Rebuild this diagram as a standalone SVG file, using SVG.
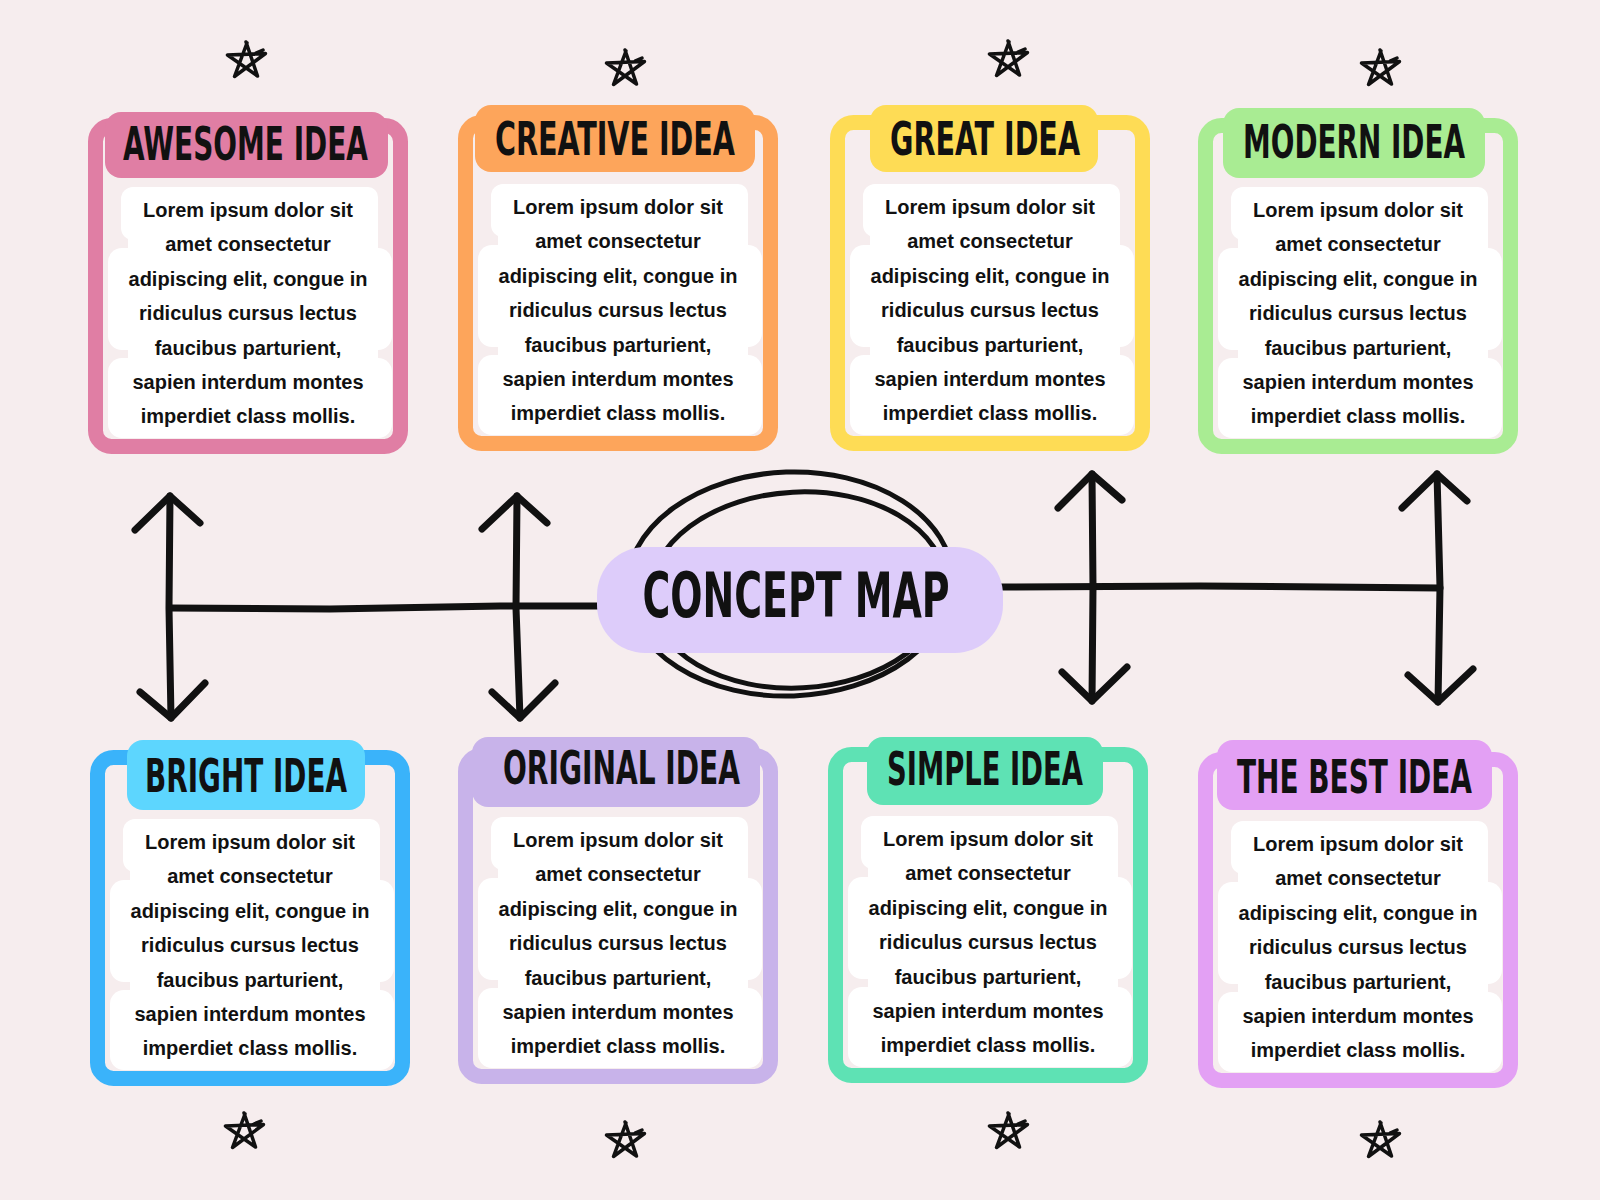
<svg xmlns="http://www.w3.org/2000/svg" xmlns:xlink="http://www.w3.org/1999/xlink" width="1600" height="1200" viewBox="0 0 1600 1200">
<style>
.frame{fill:none;stroke-width:15;stroke-linejoin:round}
.title{font-family:"DejaVu Sans Condensed","Liberation Sans Narrow","Liberation Sans",sans-serif;font-weight:bold;font-size:46px;fill:#111;text-anchor:middle}
.body{font-family:"Liberation Sans",Arial,sans-serif;font-weight:bold;font-size:20px;fill:#111;text-anchor:middle}
.wht{fill:#ffffff}
.ink{fill:none;stroke:#111;stroke-width:7;stroke-linecap:round;stroke-linejoin:round}
.scrib{fill:none;stroke:#111;stroke-width:5;stroke-linecap:round}
.star{fill:none;stroke:#111;stroke-width:3.5;stroke-linecap:round;stroke-linejoin:round}
.concept{font-family:"DejaVu Sans Condensed","Liberation Sans Narrow","Liberation Sans",sans-serif;font-weight:bold;font-size:62px;fill:#111;text-anchor:middle}
</style>
<defs>
<path id="starShape" d="M0,-18 L11.5,16 L-18.5,-5 L19.5,-6.5 L-11.5,16.5 L1,-17 M10,-7 L17,-10"/>
<g id="whiteArea">
<rect class="wht" x="40" y="69" width="250" height="251" rx="10"/>
<rect class="wht" x="33" y="69" width="256" height="53" rx="12"/>
<rect class="wht" x="20" y="130" width="284" height="102" rx="14"/>
<rect class="wht" x="20" y="240" width="284" height="80" rx="14"/>
</g>
<g id="bodyText">
<text class="body" x="160" y="99">Lorem ipsum dolor sit</text>
<text class="body" x="160" y="133.4">amet consectetur</text>
<text class="body" x="160" y="167.8">adipiscing elit, congue in</text>
<text class="body" x="160" y="202.2">ridiculus cursus lectus</text>
<text class="body" x="160" y="236.6">faucibus parturient,</text>
<text class="body" x="160" y="271">sapien interdum montes</text>
<text class="body" x="160" y="305.4">imperdiet class mollis.</text>
</g>
</defs>
<rect x="0" y="0" width="1600" height="1200" fill="#F6EDEE"/>

<g id="stars">
<use xlink:href="#starShape" href="#starShape" class="star" transform="translate(246,60)"/>
<use xlink:href="#starShape" href="#starShape" class="star" transform="translate(625,68)"/>
<use xlink:href="#starShape" href="#starShape" class="star" transform="translate(1008,59)"/>
<use xlink:href="#starShape" href="#starShape" class="star" transform="translate(1380,68)"/>
<use xlink:href="#starShape" href="#starShape" class="star" transform="translate(244,1131)"/>
<use xlink:href="#starShape" href="#starShape" class="star" transform="translate(625,1140)"/>
<use xlink:href="#starShape" href="#starShape" class="star" transform="translate(1008,1131)"/>
<use xlink:href="#starShape" href="#starShape" class="star" transform="translate(1380,1140)"/>
</g>

<g id="connectors">
<path class="ink" d="M170,608 L330,609 L500,606 L600,606"/>
<path class="ink" d="M1000,587 L1200,586 L1440,588"/>
<path class="ink" d="M170,496 L169,608 L171,718"/>
<path class="ink" d="M135,530 L170,496 L200,523"/>
<path class="ink" d="M140,692 L171,718 L205,683"/>
<path class="ink" d="M517,496 L516,608 L520,718"/>
<path class="ink" d="M482,529 L517,496 L547,523"/>
<path class="ink" d="M492,692 L520,718 L555,683"/>
<path class="ink" d="M1092,474 L1093,587 L1092,701"/>
<path class="ink" d="M1058,508 L1092,474 L1122,500"/>
<path class="ink" d="M1062,672 L1092,701 L1127,667"/>
<path class="ink" d="M1437,474 L1440,587 L1438,702"/>
<path class="ink" d="M1402,508 L1437,474 L1467,501"/>
<path class="ink" d="M1408,675 L1438,702 L1473,669"/>
</g>

<g id="concept-map">
<ellipse class="scrib" cx="790" cy="584" rx="163" ry="112" transform="rotate(-2 790 584)"/>
<ellipse class="scrib" cx="798" cy="590" rx="148" ry="98" transform="rotate(-3 798 590)"/>
<rect x="597" y="547" width="406" height="106" rx="48" fill="#DDCCFA"/>
<text class="concept" x="796" y="617" textLength="307" lengthAdjust="spacingAndGlyphs">CONCEPT MAP</text>
</g>

<g id="awesome-idea" transform="translate(88,118)">
<rect class="frame" x="7.5" y="7.5" width="305" height="321" rx="16" stroke="#E07EA4"/>
<rect x="17" y="-6" width="283" height="66" rx="16" fill="#E07EA4"/>
<use xlink:href="#whiteArea" href="#whiteArea"/>
<text class="title" x="157.5" y="42" textLength="245" lengthAdjust="spacingAndGlyphs">AWESOME IDEA</text>
<use xlink:href="#bodyText" href="#bodyText"/>
</g>

<g id="creative-idea" transform="translate(458,115)">
<rect class="frame" x="7.5" y="7.5" width="305" height="321" rx="16" stroke="#FDA55B"/>
<rect x="17" y="-10" width="280" height="67" rx="16" fill="#FDA55B"/>
<use xlink:href="#whiteArea" href="#whiteArea"/>
<text class="title" x="157" y="40" textLength="240" lengthAdjust="spacingAndGlyphs">CREATIVE IDEA</text>
<use xlink:href="#bodyText" href="#bodyText"/>
</g>

<g id="great-idea" transform="translate(830,115)">
<rect class="frame" x="7.5" y="7.5" width="305" height="321" rx="16" stroke="#FEDC55"/>
<rect x="40" y="-10" width="228" height="67" rx="16" fill="#FEDC55"/>
<use xlink:href="#whiteArea" href="#whiteArea"/>
<text class="title" x="155" y="40" textLength="190" lengthAdjust="spacingAndGlyphs">GREAT IDEA</text>
<use xlink:href="#bodyText" href="#bodyText"/>
</g>

<g id="modern-idea" transform="translate(1198,118)">
<rect class="frame" x="7.5" y="7.5" width="305" height="321" rx="16" stroke="#A9EC93"/>
<rect x="25" y="-10" width="262" height="70" rx="16" fill="#A9EC93"/>
<use xlink:href="#whiteArea" href="#whiteArea"/>
<text class="title" x="156" y="40" textLength="222" lengthAdjust="spacingAndGlyphs">MODERN IDEA</text>
<use xlink:href="#bodyText" href="#bodyText"/>
</g>

<g id="bright-idea" transform="translate(90,750)">
<rect class="frame" x="7.5" y="7.5" width="305" height="321" rx="16" stroke="#3AB3FA"/>
<rect x="37" y="-10" width="238" height="70" rx="16" fill="#5DD6FE"/>
<use xlink:href="#whiteArea" href="#whiteArea"/>
<text class="title" x="156" y="42" textLength="202" lengthAdjust="spacingAndGlyphs">BRIGHT IDEA</text>
<use xlink:href="#bodyText" href="#bodyText"/>
</g>

<g id="original-idea" transform="translate(458,748)">
<rect class="frame" x="7.5" y="7.5" width="305" height="321" rx="16" stroke="#C8B3EA"/>
<rect x="14" y="-11" width="288" height="70" rx="16" fill="#C8B3EA"/>
<use xlink:href="#whiteArea" href="#whiteArea"/>
<text class="title" x="163.5" y="36" textLength="237" lengthAdjust="spacingAndGlyphs">ORIGINAL IDEA</text>
<use xlink:href="#bodyText" href="#bodyText"/>
</g>

<g id="simple-idea" transform="translate(828,747)">
<rect class="frame" x="7.5" y="7.5" width="305" height="321" rx="16" stroke="#5EE2B4"/>
<rect x="39" y="-10" width="236" height="68" rx="16" fill="#5EE2B4"/>
<use xlink:href="#whiteArea" href="#whiteArea"/>
<text class="title" x="157" y="38" textLength="196" lengthAdjust="spacingAndGlyphs">SIMPLE IDEA</text>
<use xlink:href="#bodyText" href="#bodyText"/>
</g>

<g id="the-best-idea" transform="translate(1198,752)">
<rect class="frame" x="7.5" y="7.5" width="305" height="321" rx="16" stroke="#E3A0F4"/>
<rect x="19" y="-12" width="275" height="70" rx="16" fill="#E3A0F4"/>
<use xlink:href="#whiteArea" href="#whiteArea"/>
<text class="title" x="156.5" y="41" textLength="235" lengthAdjust="spacingAndGlyphs">THE BEST IDEA</text>
<use xlink:href="#bodyText" href="#bodyText"/>
</g>
</svg>
